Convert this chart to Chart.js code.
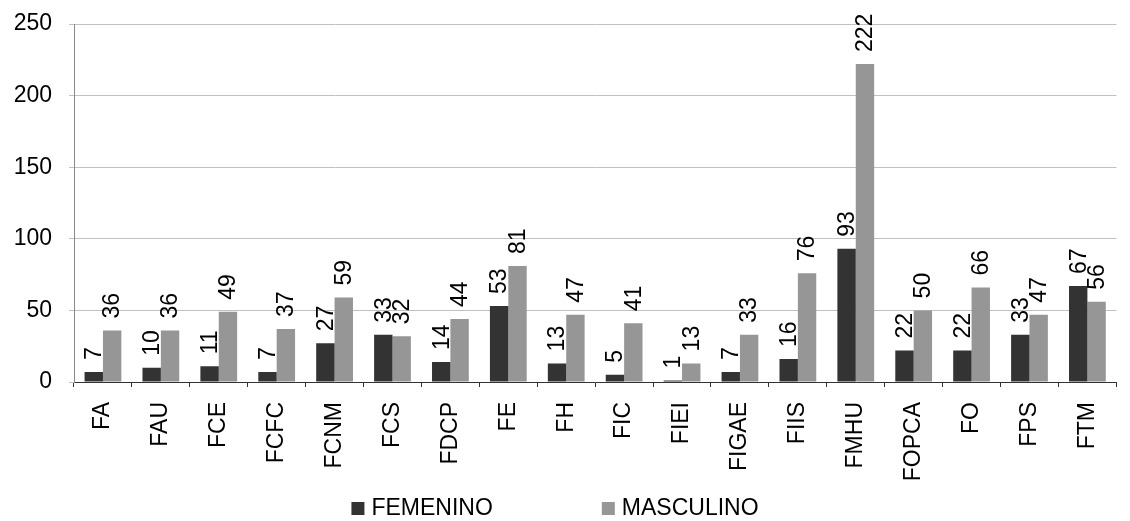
<!DOCTYPE html>
<html>
<head>
<meta charset="utf-8">
<script src="https://cdn.jsdelivr.net/npm/chart.js@4"></script>
<style>
    html, body { margin: 0; padding: 0; background: #ffffff; }
    #wrap { width: 1130px; height: 521px; position: relative; }
</style>
</head>
<body>
<div id="wrap"><canvas id="facultadesChart"></canvas></div>
<script>
const facultades = ['FA', 'FAU', 'FCE', 'FCFC', 'FCNM', 'FCS', 'FDCP', 'FE', 'FH', 'FIC', 'FIEI', 'FIGAE', 'FIIS', 'FMHU', 'FOPCA', 'FO', 'FPS', 'FTM'];
const femenino = [7, 10, 11, 7, 27, 33, 14, 53, 13, 5, 1, 7, 16, 93, 22, 22, 33, 67];
const masculino = [36, 36, 49, 37, 59, 32, 44, 81, 47, 41, 13, 33, 76, 222, 50, 66, 47, 56];
const yTicks = [0, 50, 100, 150, 200, 250];

const FONT = '"Liberation Sans", Arial, sans-serif';

// value labels, rotated to read bottom-up, just above each bar
const barLabels = {
    id: 'barLabels',
    afterDatasetsDraw(chart) {
        const ctx = chart.ctx;
        ctx.save();
        ctx.fillStyle = '#000';
        ctx.font = '23px ' + FONT;
        ctx.textAlign = 'left';
        ctx.textBaseline = 'middle';
        chart.data.datasets.forEach((ds, i) => {
            chart.getDatasetMeta(i).data.forEach((bar, j) => {
                ctx.save();
                ctx.translate(bar.x, bar.y);
                ctx.rotate(-Math.PI / 2);
                ctx.fillText(String(ds.data[j]), 12, 1);
                ctx.restore();
            });
        });
        ctx.restore();
    }
};

// legend along the bottom edge
const bottomLegend = {
    id: 'bottomLegend',
    afterDraw(chart) {
        const ctx = chart.ctx;
        const box = 13, gap = 7, spacing = 109;
        ctx.save();
        ctx.font = '23px ' + FONT;
        ctx.textBaseline = 'middle';
        ctx.textAlign = 'left';
        const items = chart.data.datasets.map(ds => ({
            text: ds.label, color: ds.backgroundColor, w: ctx.measureText(ds.label).width
        }));
        let total = 0;
        items.forEach((it, i) => { total += box + gap + it.w + (i ? spacing : 0); });
        let x = chart.width / 2 - total / 2 - 10;
        const y = chart.height - 12;
        items.forEach(it => {
            ctx.fillStyle = it.color;
            ctx.fillRect(x, y - 7, box, box);
            ctx.fillStyle = '#000';
            ctx.fillText(it.text, x + box + gap, y);
            x += box + gap + it.w + spacing;
        });
        ctx.restore();
    }
};

new Chart(document.getElementById('facultadesChart').getContext('2d'), {
    type: 'bar',
    data: {
        labels: facultades,
        datasets: [{
            label: 'FEMENINO',
            data: femenino,
            backgroundColor: '#333333',
            borderWidth: 0
        }, {
            label: 'MASCULINO',
            data: masculino,
            backgroundColor: '#969696',
            borderWidth: 0
        }]
    },
    options: {
        responsive: true,
        maintainAspectRatio: false,
        animation: false,
        layout: { padding: { top: 24, right: 0, bottom: 0, left: 0 } },
        datasets: { bar: { categoryPercentage: 0.635, barPercentage: 1.0 } },
        plugins: {
            legend: { display: false },
            tooltip: { enabled: false }
        },
        scales: {
            x: {
                afterFit: (scale) => { scale.height = 139; },
                grid: {
                    offset: true,
                    drawOnChartArea: false,
                    drawTicks: true,
                    tickLength: 5,
                    color: '#333333'
                },
                border: { color: '#333333', width: 1 },
                ticks: {
                    autoSkip: false,
                    minRotation: 90,
                    maxRotation: 90,
                    padding: 15,
                    color: '#000',
                    font: { family: FONT, size: 23 }
                }
            },
            y: {
                min: 0,
                max: 250,
                afterFit: (scale) => {
                    scale.width = 74;
                    // tick padding would otherwise push the plot top down
                    scale.paddingTop = 0;
                    scale.paddingBottom = 0;
                },
                afterBuildTicks: (scale) => { scale.ticks = yTicks.map(v => ({ value: v })); },
                grid: {
                    color: '#c0c0c0',
                    lineWidth: 1,
                    drawTicks: true,
                    tickLength: 5
                },
                border: { color: '#888888', width: 1 },
                ticks: {
                    padding: 17,
                    color: '#000',
                    font: { family: FONT, size: 23 }
                }
            }
        }
    },
    plugins: [barLabels, bottomLegend]
});
</script>
</body>
</html>
